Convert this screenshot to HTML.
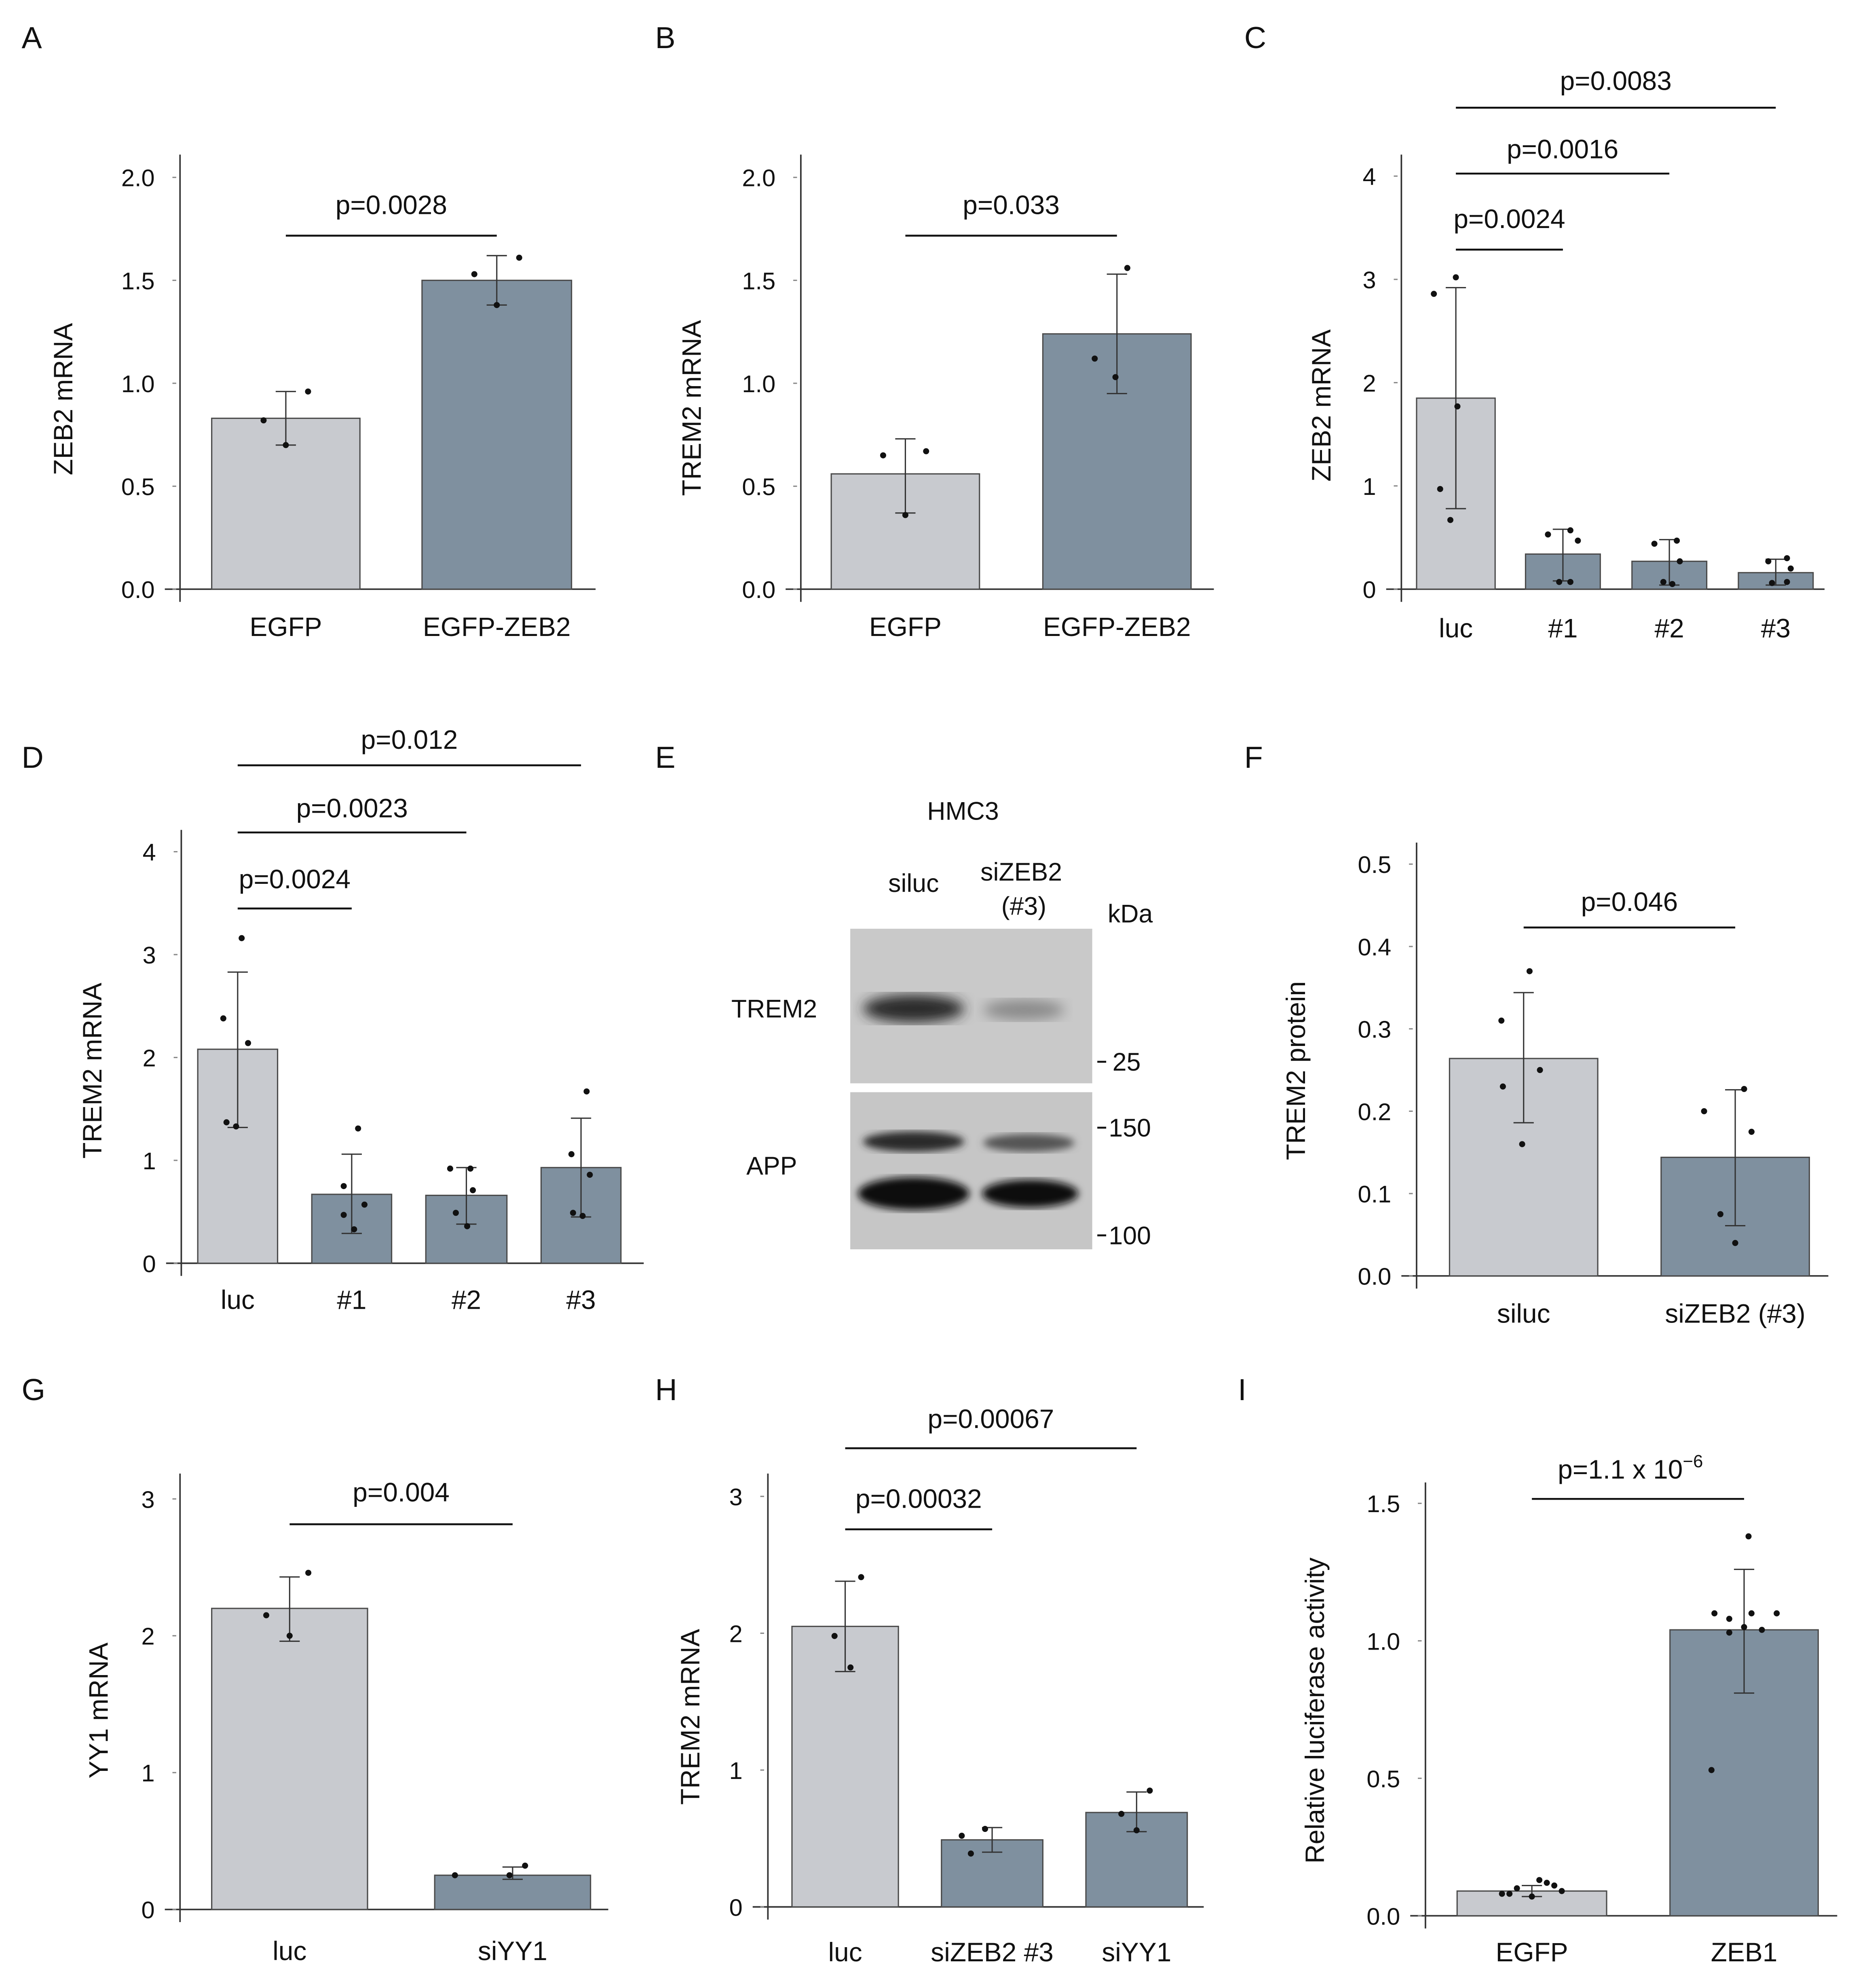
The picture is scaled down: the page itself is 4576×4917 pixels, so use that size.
<!DOCTYPE html>
<html><head><meta charset="utf-8">
<style>
html,body{margin:0;padding:0;background:#fff;}
svg{display:block;}
text{font-family:"Liberation Sans",Arial,sans-serif;fill:#111;}
</style></head>
<body>
<svg id="fig" width="4576" height="4917" viewBox="0 0 1460 1569" xmlns="http://www.w3.org/2000/svg">
<rect x="0" y="0" width="1470" height="1580" fill="#fff"/>
<g id="blot">
  <defs>
    <filter id="blur2"><feGaussianBlur stdDeviation="5"/></filter>
    <filter id="blur1"><feGaussianBlur stdDeviation="3"/></filter>
  </defs>
  <text x="760" y="647" font-size="20" text-anchor="middle">HMC3</text>
  <text x="721" y="704" font-size="20" text-anchor="middle">siluc</text>
  <text x="806" y="695" font-size="20" text-anchor="middle">siZEB2</text>
  <text x="808" y="722" font-size="20" text-anchor="middle">(#3)</text>
  <text x="892" y="728" font-size="20" text-anchor="middle">kDa</text>
  <text x="611" y="803" font-size="20" text-anchor="middle">TREM2</text>
  <text x="609" y="927" font-size="20" text-anchor="middle">APP</text>
  <rect x="671" y="733" width="191" height="122" fill="#c9c9c9"/>
  <rect x="671" y="862" width="191" height="124" fill="#c6c6c6"/>
  <ellipse cx="721" cy="796" rx="40" ry="11" fill="#2a2a2a" filter="url(#blur2)"/>
  <ellipse cx="808" cy="797" rx="32" ry="8" fill="#8a8a8a" filter="url(#blur2)"/>
  <ellipse cx="721" cy="901" rx="40" ry="8" fill="#2a2a2a" filter="url(#blur1)"/>
  <ellipse cx="812" cy="902" rx="36" ry="7" fill="#555" filter="url(#blur1)"/>
  <ellipse cx="721" cy="942" rx="44" ry="13" fill="#0a0a0a" filter="url(#blur1)"/>
  <ellipse cx="813" cy="942" rx="38" ry="11" fill="#111" filter="url(#blur1)"/>
  <line x1="866" y1="838" x2="873" y2="838" stroke="#111" stroke-width="1.5"/>
  <text x="878" y="845" font-size="20">25</text>
  <line x1="866" y1="890" x2="873" y2="890" stroke="#111" stroke-width="1.5"/>
  <text x="875" y="897" font-size="20">150</text>
  <line x1="866" y1="975" x2="873" y2="975" stroke="#111" stroke-width="1.5"/>
  <text x="875" y="982" font-size="20">100</text>
</g>
</svg>
<script>
// ---- Data arrays ----
const A_categories=["EGFP","EGFP-ZEB2"];
const A_values=[0.83,1.50];
const A_errLow=[0.70,1.38];
const A_errHigh=[0.96,1.62];
const A_points=[[0.82,0.96,0.70],[1.53,1.61,1.38]];
const A_ticks=[0.0,0.5,1.0,1.5,2.0];
const A_tickLabels=["0.0","0.5","1.0","1.5","2.0"];
const A_pvals=["p=0.0028"];

const B_categories=["EGFP","EGFP-ZEB2"];
const B_values=[0.56,1.24];
const B_errLow=[0.37,0.95];
const B_errHigh=[0.73,1.53];
const B_points=[[0.65,0.67,0.36],[1.12,1.56,1.03]];
const B_ticks=[0.0,0.5,1.0,1.5,2.0];
const B_tickLabels=["0.0","0.5","1.0","1.5","2.0"];
const B_pvals=["p=0.033"];

const C_categories=["luc","#1","#2","#3"];
const C_values=[1.85,0.34,0.27,0.16];
const C_errLow=[0.78,0.08,0.04,0.04];
const C_errHigh=[2.92,0.58,0.48,0.29];
const C_points=[[2.86,3.02,1.77,0.97,0.67],[0.53,0.57,0.47,0.07,0.07],[0.44,0.47,0.27,0.07,0.05],[0.27,0.30,0.20,0.06,0.07]];
const C_ticks=[0,1,2,3,4];
const C_tickLabels=["0","1","2","3","4"];
const C_pvals=["p=0.0024","p=0.0016","p=0.0083"];

const D_categories=["luc","#1","#2","#3"];
const D_values=[2.08,0.67,0.66,0.93];
const D_errLow=[1.32,0.29,0.38,0.45];
const D_errHigh=[2.83,1.06,0.93,1.41];
const D_points=[[2.38,3.16,2.14,1.37,1.33],[0.75,1.31,0.57,0.47,0.33],[0.92,0.92,0.71,0.49,0.36],[1.06,1.67,0.86,0.49,0.46]];
const D_ticks=[0,1,2,3,4];
const D_tickLabels=["0","1","2","3","4"];
const D_pvals=["p=0.0024","p=0.0023","p=0.012"];

const F_categories=["siluc","siZEB2 (#3)"];
const F_values=[0.264,0.144];
const F_errLow=[0.186,0.061];
const F_errHigh=[0.344,0.226];
const F_points=[[0.31,0.37,0.25,0.23,0.16],[0.20,0.227,0.175,0.075,0.04]];
const F_ticks=[0.0,0.1,0.2,0.3,0.4,0.5];
const F_tickLabels=["0.0","0.1","0.2","0.3","0.4","0.5"];
const F_pvals=["p=0.046"];

const G_categories=["luc","siYY1"];
const G_values=[2.20,0.25];
const G_errLow=[1.96,0.22];
const G_errHigh=[2.43,0.31];
const G_points=[[2.15,2.46,2.00],[0.25,0.32,0.25]];
const G_ticks=[0,1,2,3];
const G_tickLabels=["0","1","2","3"];
const G_pvals=["p=0.004"];

const H_categories=["luc","siZEB2 #3","siYY1"];
const H_values=[2.05,0.49,0.69];
const H_errLow=[1.72,0.40,0.55];
const H_errHigh=[2.38,0.58,0.84];
const H_points=[[1.98,2.41,1.75],[0.52,0.57,0.39],[0.68,0.85,0.56]];
const H_ticks=[0,1,2,3];
const H_tickLabels=["0","1","2","3"];
const H_pvals=["p=0.00032","p=0.00067"];

const I_categories=["EGFP","ZEB1"];
const I_values=[0.09,1.04];
const I_errLow=[0.07,0.81];
const I_errHigh=[0.11,1.26];
const I_points=[[0.08,0.10,0.07,0.12,0.09,0.13,0.08,0.11],[1.10,1.08,1.10,1.10,1.05,1.03,1.04,1.38,0.53]];
const I_ticks=[0.0,0.5,1.0,1.5];
const I_tickLabels=["0.0","0.5","1.0","1.5"];
const I_pvals=["p=1.1 x 10"];

// ---- Layout (not data) ----
const NS="http://www.w3.org/2000/svg";
const svg=document.getElementById('fig');
function mk(tag,attrs,parent){const e=document.createElementNS(NS,tag);for(const k in attrs)e.setAttribute(k,attrs[k]);(parent||svg).appendChild(e);return e;}

const panels=[
 {id:"a",cats:A_categories,vals:A_values,lo:A_errLow,hi:A_errHigh,pts:A_points,ticks:A_ticks,tl:A_tickLabels,pv:A_pvals,
  ax:142,y0:465,top:122,unit:162.5,right:470,bars:[[167,117],[333,118]],title:"ZEB2 mRNA",tx:57,tcy:315,labY:502,
  brackets:[[0,1,186,162]],jit:[[-0.15,0.15,0],[-0.15,0.15,0]]},
 {id:"b",cats:B_categories,vals:B_values,lo:B_errLow,hi:B_errHigh,pts:B_points,ticks:B_ticks,tl:B_tickLabels,pv:B_pvals,
  ax:632,y0:465,top:122,unit:162.5,right:958,bars:[[656,117],[823,117]],title:"TREM2 mRNA",tx:553,tcy:322,labY:502,
  brackets:[[0,1,186,162]],jit:[[-0.15,0.14,0],[-0.15,0.07,-0.01]]},
 {id:"c",cats:C_categories,vals:C_values,lo:C_errLow,hi:C_errHigh,pts:C_points,ticks:C_ticks,tl:C_tickLabels,pv:C_pvals,
  ax:1106,y0:465,top:122,unit:81.5,right:1440,bars:[[1118,62],[1204,59],[1288,59],[1372,59]],title:"ZEB2 mRNA",tx:1050,tcy:320,labY:503,
  brackets:[[0,1,197,173],[0,2,137,118],[0,3,85,64]],jit:[[-0.28,0,0.02,-0.2,-0.07],[-0.2,0.1,0.2,-0.05,0.1],[-0.2,0.1,0.14,-0.08,0.04],[-0.1,0.15,0.2,-0.05,0.15]]},
 {id:"d",cats:D_categories,vals:D_values,lo:D_errLow,hi:D_errHigh,pts:D_points,ticks:D_ticks,tl:D_tickLabels,pv:D_pvals,
  ax:143,y0:997,top:655,unit:81.2,right:508,bars:[[156,63],[246,63],[336,64],[427,63]],title:"TREM2 mRNA",tx:80,tcy:845,labY:1033,
  brackets:[[0,1,717,694],[0,2,657,638],[0,3,604,584]],jit:[[-0.18,0.05,0.13,-0.14,-0.02],[-0.1,0.08,0.16,-0.1,0.03],[-0.2,0.05,0.08,-0.13,0.01],[-0.12,0.07,0.11,-0.1,0.02]]},
 {id:"f",cats:F_categories,vals:F_values,lo:F_errLow,hi:F_errHigh,pts:F_points,ticks:F_ticks,tl:F_tickLabels,pv:F_pvals,
  ax:1118,y0:1007,top:665,unit:650,right:1443,bars:[[1144,117],[1311,117]],title:"TREM2 protein",tx:1030,tcy:845,labY:1044,
  brackets:[[0,1,732,712]],jit:[[-0.15,0.04,0.11,-0.14,-0.01],[-0.21,0.06,0.11,-0.1,0]]},
 {id:"g",cats:G_categories,vals:G_values,lo:G_errLow,hi:G_errHigh,pts:G_points,ticks:G_ticks,tl:G_tickLabels,pv:G_pvals,
  ax:142,y0:1507,top:1163,unit:108,right:480,bars:[[167,123],[343,123]],title:"YY1 mRNA",tx:85,tcy:1350,labY:1547,
  brackets:[[0,1,1203,1178]],jit:[[-0.15,0.12,0],[-0.37,0.08,-0.02]]},
 {id:"h",cats:H_categories,vals:H_values,lo:H_errLow,hi:H_errHigh,pts:H_points,ticks:H_ticks,tl:H_tickLabels,pv:H_pvals,
  ax:606,y0:1505,top:1163,unit:108,right:950,bars:[[625,84],[743,80],[857,80]],title:"TREM2 mRNA",tx:552,tcy:1355,labY:1548,
  brackets:[[0,1,1207,1183],[0,2,1143,1120]],jit:[[-0.1,0.15,0.05],[-0.3,-0.07,-0.21],[-0.15,0.13,0]]},
 {id:"i",cats:I_categories,vals:I_values,lo:I_errLow,hi:I_errHigh,pts:I_points,ticks:I_ticks,tl:I_tickLabels,pv:I_pvals,
  ax:1125,y0:1512,top:1170,unit:217,right:1450,bars:[[1150,118],[1318,117]],title:"Relative luciferase activity",tx:1045,tcy:1350,labY:1548,
  brackets:[[0,1,1183,1160]],jit:[[-0.2,-0.1,0,0.1,0.2,0.05,-0.15,0.15],[-0.2,-0.1,0.05,0.22,0,-0.1,0.12,0.03,-0.22]]}
];
const letters=[["A",25,38],["B",525,38],["C",990,38],["D",25,606],["E",525,606],["F",990,606],["G",25,1105],["H",525,1105],["I",985,1105]];
letters.forEach(l=>{
  const t=mk('text',{x:l[1]-8,y:l[2],'font-size':24});t.textContent=l[0];
  
  
});

panels.forEach(p=>{
  const g=mk('g',{});
  
  
  const y=v=>p.y0-v*p.unit;
  const cx=i=>p.bars[i][0]+p.bars[i][1]/2;
  const ya=mk('line',{x1:p.ax,y1:p.top,x2:p.ax,y2:p.y0+10,stroke:'#333','stroke-width':1.2},g);
  
  
  const xa=mk('line',{x1:p.ax-12,y1:p.y0,x2:p.right,y2:p.y0,stroke:'#333','stroke-width':1.2},g);
  
  
  p.ticks.forEach((tv,i)=>{
    mk('line',{x1:p.ax-6,y1:y(tv),x2:p.ax-3,y2:y(tv),stroke:'#888','stroke-width':1},g);
    const t=mk('text',{x:p.ax-20,y:y(tv)+7,'font-size':19,'text-anchor':'end'},g);
    t.textContent=p.tl[i];
    
    
  });
  const ty=p.tcy;
  const tt=mk('text',{x:p.tx,y:ty,'font-size':21,'text-anchor':'middle',transform:`rotate(-90 ${p.tx} ${ty})`},g);
  tt.textContent=p.title;
  
  
  p.cats.forEach((c,i)=>{
    const b=mk('rect',{x:p.bars[i][0],y:y(p.vals[i]),width:p.bars[i][1],height:p.vals[i]*p.unit,
      fill:i===0?'#c8cacf':'#7f909f',stroke:'#4a4a4a','stroke-width':1},g);
    
    
    const eb=mk('path',{d:`M${cx(i)},${y(p.lo[i])}V${y(p.hi[i])}M${cx(i)-8},${y(p.lo[i])}H${cx(i)+8}M${cx(i)-8},${y(p.hi[i])}H${cx(i)+8}`,stroke:'#333','stroke-width':1,fill:'none'},g);
    
    
    p.pts[i].forEach((v,j)=>{
      const d=mk('circle',{cx:cx(i)+(p.jit[i][j]||0)*p.bars[i][1],cy:y(v),r:2.4,fill:'#111'},g);
      
      
    });
    const lt=mk('text',{x:cx(i),y:p.labY,'font-size':21,'text-anchor':'middle'},g);
    lt.textContent=c;
    
    
  });
  p.brackets.forEach((br,k)=>{
    const x1=cx(br[0]),x2=cx(br[1]);
    const l=mk('line',{x1:x1,y1:br[2],x2:x2,y2:br[2],stroke:'#111','stroke-width':1.5},g);
    
    
    const t=mk('text',{x:(x1+x2)/2,y:br[3]+7,'font-size':21,'text-anchor':'middle'},g);
    t.textContent=p.pv[k];
    if(p.id==='i'){
      const s=mk('tspan',{dy:-9,'font-size':14},t);
      s.textContent='−6';
      t.setAttribute('x',(x1+x2)/2-6);
    }
    
    
  });
});
</script>
</body></html>
